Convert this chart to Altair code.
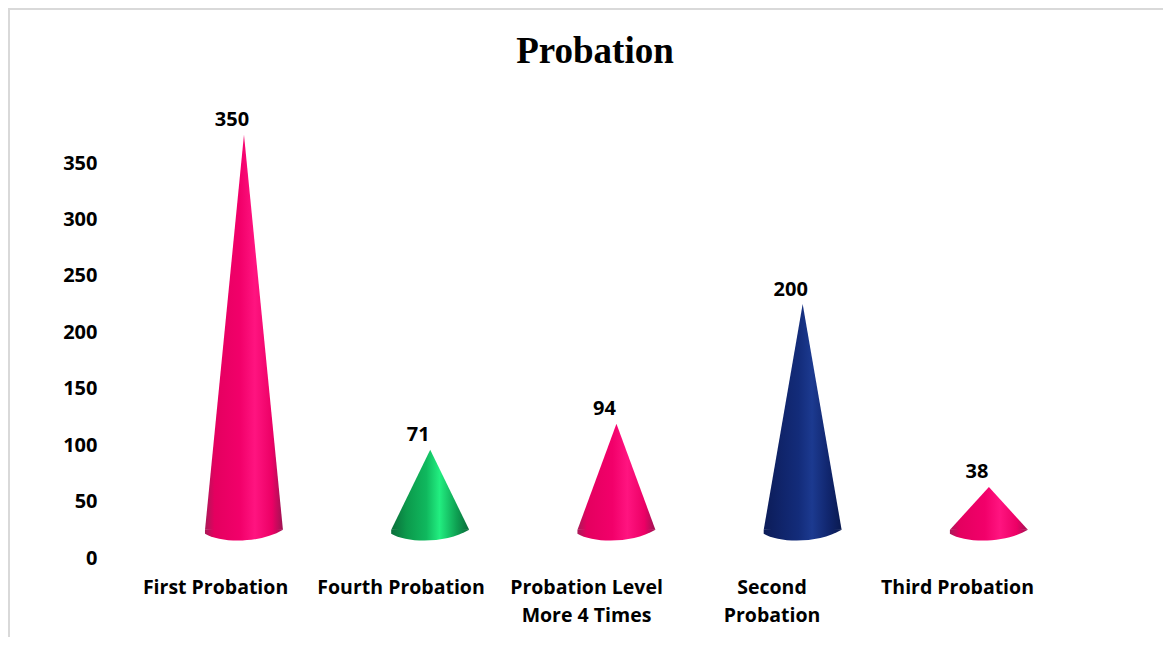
import json
import altair as alt
import pandas as pd

categories = ["First Probation", "Fourth Probation", "Probation Level More 4 Times", "Second Probation", "Third Probation"]
label_lines = [["First Probation"], ["Fourth Probation"], ["Probation Level", "More 4 Times"], ["Second", "Probation"], ["Third Probation"]]
values = [350, 71, 94, 200, 38]
y_ticks = [0, 50, 100, 150, 200, 250, 300, 350]

PINK = [("#a91a58", 0), ("#e4005f", 0.12), ("#f2006a", 0.45), ("#ff1480", 0.64), ("#ec0065", 0.86), ("#9c1452", 1)]
GREEN = [("#0a6e3a", 0), ("#0c9a4c", 0.2), ("#10b85e", 0.45), ("#22ee80", 0.62), ("#0ea052", 0.84), ("#0a6a3a", 1)]
NAVY = [("#0c1c58", 0), ("#10256c", 0.25), ("#132c7a", 0.45), ("#1c3a90", 0.62), ("#10256c", 0.84), ("#0a1a50", 1)]
palette = [PINK, GREEN, PINK, NAVY, PINK]

FLOOR = 25
CONE_SHIFT = 0.156
CONE_SPREAD = 1.004
HALF = 0.21

x_scale = alt.Scale(domain=[-0.5663, 4.6631], nice=False, zero=False)
y_scale = alt.Scale(domain=[0, 414.7], nice=False, zero=True)
BASE = "M-1,0 L-1,0.1 C-0.6,0.34 0.4,0.36 1,0 C0.5,-0.06 -0.5,-0.06 -1,0 Z"


def grad(stops):
    return alt.Gradient(gradient="linear", x1=0, y1=0, x2=1, y2=0,
                        stops=[alt.GradientStop(color=c, offset=o) for c, o in stops])


def centre(i):
    return CONE_SHIFT + i * CONE_SPREAD


layers = []
axis_df = pd.DataFrame({"i": list(range(5)), "v": values})
label_expr = json.dumps(label_lines) + "[datum.value]"
layers.append(
    alt.Chart(axis_df).mark_point(opacity=0).encode(
        x=alt.X("i:Q", scale=x_scale, title=None,
                axis=alt.Axis(values=list(range(5)), labelExpr=label_expr, grid=False, domain=False, ticks=False,
                              labelPadding=20, labelFont="Open Sans", labelFontWeight="bold", labelFontSize=19.5,
                              labelColor="#000000", labelLineHeight=28, labelBaseline="top", labelAngle=0,
                              labelOverlap=False, labelBound=False, labelFlush=False)),
        y=alt.Y("v:Q", scale=y_scale, title=None,
                axis=alt.Axis(values=y_ticks, grid=False, domain=False, ticks=False, labelPadding=13,
                              labelFont="Open Sans", labelFontWeight="bold", labelFontSize=20, labelColor="#000000")),
    )
)

for i, (v, stops) in enumerate(zip(values, palette)):
    cx = centre(i)
    cone = pd.DataFrame({
        "x": [cx - HALF, cx, cx + HALF],
        "y": [FLOOR, FLOOR + v, FLOOR],
        "y0": [FLOOR, FLOOR, FLOOR],
    })
    layers.append(
        alt.Chart(cone).mark_area(color=grad(stops), interpolate="linear").encode(
            x=alt.X("x:Q", scale=x_scale),
            y=alt.Y("y:Q", scale=y_scale),
            y2="y0:Q",
        )
    )
    base = pd.DataFrame({"x": [cx], "y": [FLOOR]})
    layers.append(
        alt.Chart(base).mark_point(shape=BASE, size=6084, filled=True, fill=grad(stops), opacity=1).encode(
            x=alt.X("x:Q", scale=x_scale),
            y=alt.Y("y:Q", scale=y_scale),
        )
    )

text_df = pd.DataFrame({"x": [centre(i) for i in range(5)], "y": [FLOOR + v for v in values], "t": values})
layers.append(
    alt.Chart(text_df).mark_text(font="Open Sans", fontWeight="bold", fontSize=20, color="#000000", dx=-12, dy=-14.5).encode(
        x=alt.X("x:Q", scale=x_scale),
        y=alt.Y("y:Q", scale=y_scale),
        text="t:Q",
    )
)

# title
layers.append(alt.Chart(pd.DataFrame({"t": ["Probation"]})).mark_text(
    font="Liberation Serif", fontWeight="bold", fontSize=37, color="#000000", baseline="alphabetic", align="center"
).encode(x=alt.value(485), y=alt.value(-27), text="t:N"))

# chart frame
frame = "#d9d9d9"
layers.append(alt.Chart(axis_df.head(1)).mark_rule(color=frame, strokeWidth=2).encode(
    x=alt.value(-102), x2=alt.value(1053), y=alt.value(-81)))
layers.append(alt.Chart(axis_df.head(1)).mark_rule(color=frame, strokeWidth=2).encode(
    x=alt.value(-101), y=alt.value(-82), y2=alt.value(547)))

chart = alt.layer(*layers).resolve_scale(x="shared", y="shared").properties(
    width=970, height=468, background="white",
    padding={"left": 102, "top": 82, "right": 83, "bottom": 79},
    autosize=alt.AutoSizeParams(type="none"),
).configure_view(stroke=None)

chart.save("out.html", embed_options={"renderer": "svg", "actions": False})
